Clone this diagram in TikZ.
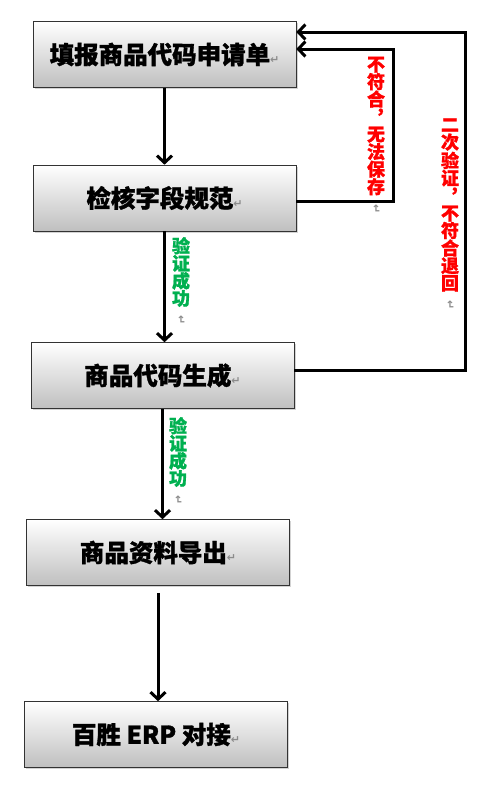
\documentclass[tikz,border=0pt]{standalone}
\usepackage{fontspec}
\usepackage{graphicx}
\newfontfamily\cjk{Noto Sans CJK SC}[BoldFeatures={FakeBold=1.2}]
\newfontfamily\symf{DejaVu Sans}
\usetikzlibrary{arrows.meta,shadows}
\definecolor{okg}{HTML}{00B050}
\definecolor{bad}{HTML}{FF0000}
\definecolor{mute}{HTML}{8C8C8C}
\newcommand\pmark{{\symf\fontsize{11}{11}\selectfont\color{mute}↵}}
\newcommand\vmark{{\symf\fontsize{11}{11}\selectfont\color{mute}\rotatebox{-90}{↵}}}
\tikzset{
  >={Straight Barb[length=7pt,width=15pt]},
  box/.style={draw=black!80,line width=0.6pt,minimum width=263pt,minimum height=66pt,inner sep=0pt,
    top color=white,bottom color=black!25,
    drop shadow={opacity=0.35,shadow xshift=1.5pt,shadow yshift=-1.5pt},
    font=\cjk\bfseries\fontsize{24.5}{24.5}\selectfont},
  lab/.style={align=center,inner sep=0pt,font=\cjk\bfseries\fontsize{18}{17.5}\selectfont},
  arr/.style={->,draw=black,line width=3pt},
}
\begin{document}
\begin{tikzpicture}[x=1pt,y=-1pt]
\useasboundingbox (0,0) rectangle (485,790);
\node[box] (b1) at (164.5,54.5) {填报商品代码申请单\pmark};
\node[box] (b2) at (164.5,198) {检核字段规范\pmark};
\node[box] (b3) at (162.5,375.5) {商品代码生成\pmark};
\node[box] (b4) at (158,552.5) {商品资料导出\pmark};
\node[box] (b5) at (156,734.5) {百胜 ERP 对接\pmark};
% main flow
\draw[arr] (b1.south) -- (b2.north);
\draw[arr] (b2.south) -- (b2.south |- b3.north);
\draw[arr] (b3.south) -- (b3.south |- b4.north);
\draw[arr,shorten <=7pt] (b4.south) -- (b4.south |- b5.north);
\node[lab,okg] (ok1) at (181,281) {验\\证\\成\\功\\[-7pt]\vmark};
\node[lab,okg] (ok2) at (178,461) {验\\证\\成\\功\\[-7pt]\vmark};
% feedback loops
\draw[arr] ([yshift=-3pt]b2.east) -- ++(97,0) |- ([yshift=5.5pt]b1.east);
\draw[arr] ([yshift=5pt]b3.east) -- ++(171,0) |- ([yshift=22.5pt]b1.east);
\node[lab,bad] (no1) at (376,135) {不\\符\\合\\︐\\无\\法\\保\\存\\[-7pt]\vmark};
\node[lab,bad] (no2) at (450,214) {二\\次\\验\\证\\︐\\不\\符\\合\\退\\回\\[-7pt]\vmark};
\end{tikzpicture}
\end{document}
